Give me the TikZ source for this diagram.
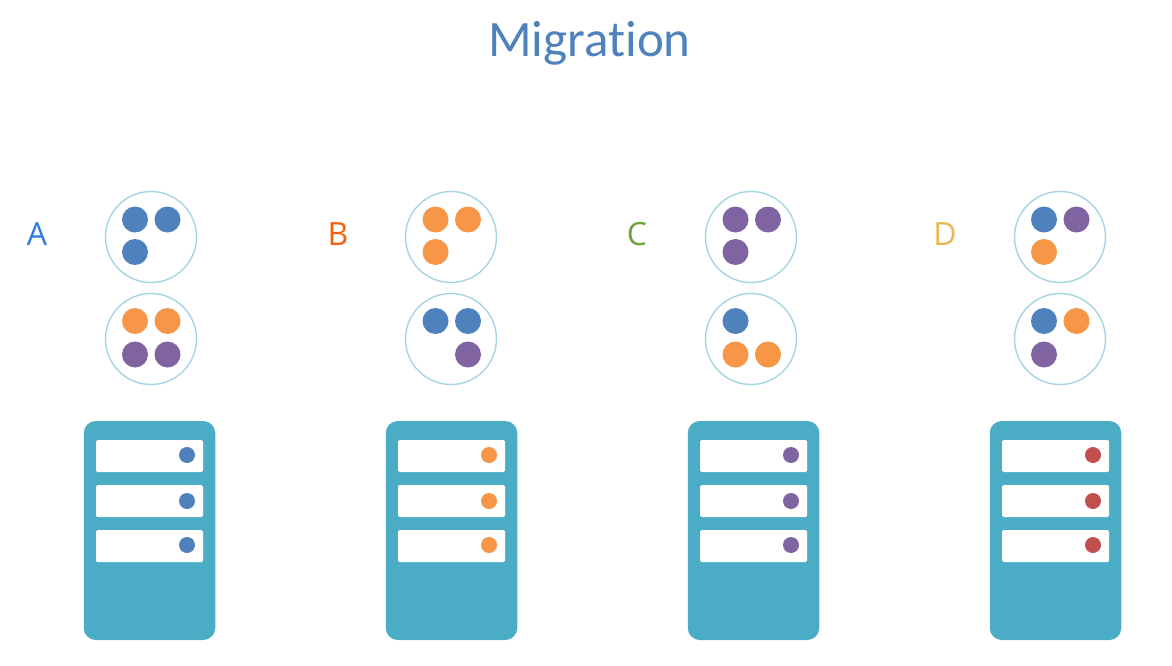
\documentclass[tikz,border=0pt]{standalone}
\usepackage{fontspec}
\setmainfont{Carlito}[RawFeature={-liga}]
\newfontfamily\labelfont{Open Sans}
\definecolor{cblue}{HTML}{4F81BD}
\definecolor{corange}{HTML}{F79646}
\definecolor{cpurple}{HTML}{8064A2}
\definecolor{cred}{HTML}{C0504D}
\definecolor{teal}{HTML}{4BACC6}
\definecolor{ring}{HTML}{A5D5E2}
\tikzset{
  group/.style={circle,draw=ring,line width=1.4pt,fill=white,minimum size=91pt,inner sep=0pt},
  vm/.style={circle,fill=#1,minimum size=26pt,inner sep=0pt},
  chassis/.style={rectangle,rounded corners=12pt,fill=teal,minimum width=131.5pt,minimum height=219pt,inner sep=0pt},
  bay/.style={rectangle,rounded corners=1.5pt,fill=white,minimum width=107pt,minimum height=32pt,inner sep=0pt},
  led/.style={circle,fill=#1,minimum size=16pt,inner sep=0pt},
  hostlabel/.style={font=\labelfont\fontsize{32}{32}\selectfont,text=#1,inner sep=0pt}
}
\begin{document}
\begin{tikzpicture}[x=1pt,y=-1pt]
\useasboundingbox (0,0) rectangle (1172,666);
\node[text=cblue,font=\fontsize{51}{51}\selectfont,inner sep=0pt] (title) at (589.5,43) {Migration};
\foreach \id/\cx/\lx/\lc/\ltxt/\sx/\ledc in {
 a/151/37/2E7CE0/A/149.5/cblue,
 b/451/338/F4600F/B/451.5/corange,
 c/751/637/70A03C/C/753.5/cpurple,
 d/1060/945/E8B850/D/1055.5/cred}{
  \definecolor{lc}{HTML}{\lc}
  \node[hostlabel=lc] (label\id) at (\lx,234) {\ltxt};
  \node[group] (top\id) at (\cx,237) {};
  \node[group] (bot\id) at (\cx,339) {};
  \node[chassis] (srv\id) at (\sx,530.5) {};
  \foreach \i/\by/\ly in {1/456/455,2/501/501,3/546/545}{
    \node[bay] (bay\id\i) at (\sx,\by) {};
    \pgfmathsetmacro{\lex}{\sx+37.5}
    \node[led=\ledc] (led\id\i) at (\lex,\ly) {};
  }
}
% virtual machines: name / x / y / colour
\foreach \n/\x/\y/\c in {
 a1/135/219.5/cblue, a2/167.5/219.5/cblue, a3/135/252/cblue,
 a5/135/321/corange, a6/167.5/321/corange, a7/135/354.5/cpurple, a8/167.5/354.5/cpurple,
 b1/435.5/219.5/corange, b2/468/219.5/corange, b3/435.5/252/corange,
 b5/435.5/321/cblue, b6/468/321/cblue, b8/468/354.5/cpurple,
 c1/735.5/219.5/cpurple, c2/768/219.5/cpurple, c3/735.5/252/cpurple,
 c5/735.5/321/cblue, c7/735.5/354.5/corange, c8/768/354.5/corange,
 d1/1044/219.5/cblue, d2/1076.5/219.5/cpurple, d3/1044/252/corange,
 d5/1044/321/cblue, d6/1076.5/321/corange, d7/1044/354.5/cpurple}{
  \node[vm=\c] (vm\n) at (\x,\y) {};
}
\end{tikzpicture}
\end{document}
